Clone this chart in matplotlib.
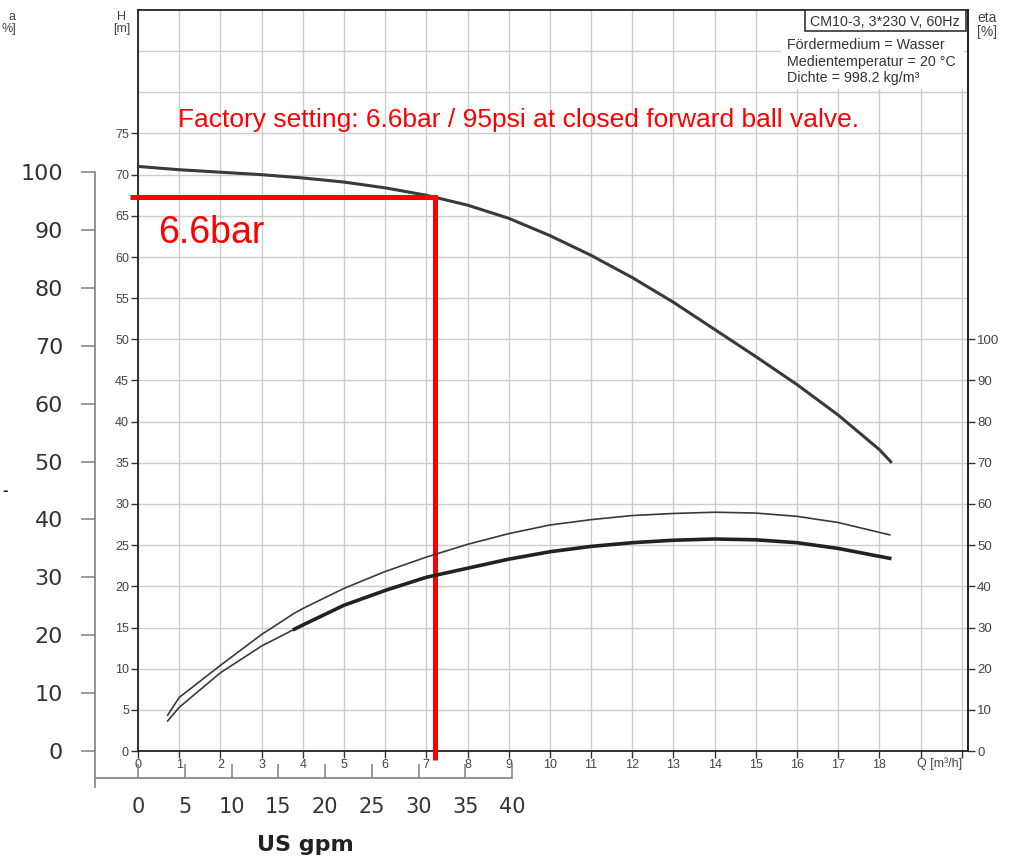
import matplotlib
matplotlib.use("Agg")
import matplotlib.pyplot as plt
from matplotlib.patches import Rectangle
import numpy as np

plt.rcParams['font.family'] = ['Liberation Sans', 'DejaVu Sans']

# ---------------- data ----------------
# Pump head curve H [m] vs flow Q [m3/h]
q_head = [0, 1, 2, 3, 4, 5, 6, 7, 8, 9, 10, 11, 12, 13, 14, 15, 16, 17, 18, 18.3]
head_m = [71.0, 70.6, 70.3, 70.0, 69.6, 69.1, 68.4, 67.5, 66.3, 64.7, 62.6,
          60.2, 57.5, 54.5, 51.2, 47.9, 44.5, 40.8, 36.6, 35.0]

# Efficiency curves eta [%] vs Q [m3/h]
q_eta = [0.72, 1, 2, 3, 3.8, 4, 5, 6, 7, 8, 9, 10, 11, 12, 13, 14, 15, 16, 17, 18.25]
eta_pump = [8.7, 13.0, 20.8, 28.3, 33.5, 34.6, 39.5, 43.6, 47.1, 50.2, 52.8, 54.9,
            56.2, 57.2, 57.7, 58.0, 57.8, 57.0, 55.5, 52.5]
eta_total = [7.3, 10.6, 19.0, 25.5, 29.6, 30.6, 35.4, 39.0, 42.2, 44.4, 46.6, 48.4,
             49.7, 50.6, 51.2, 51.5, 51.3, 50.6, 49.2, 46.8]
thick_from_q = 3.8

# Axis ticks
q_ticks = list(range(0, 21))
q_labels = [str(i) for i in range(0, 19)] + ['', '']
h_ticks = list(range(0, 76, 5))
h_grid_extra = [80, 85]
eta_ticks = list(range(0, 101, 10))
psi_ticks = list(range(0, 101, 10))
gpm_ticks = list(range(0, 41, 5))

# Factory setting
setting_bar = 6.6
setting_q = 7.2
M_PER_BAR = 10.19
M_PER_PSI = 0.7031
GPM_PER_M3H = 4.4029

title_txt = "CM10-3, 3*230 V, 60Hz"
info_lines = ["Fördermedium = Wasser", "Medientemperatur = 20 °C", "Dichte = 998.2 kg/m³"]
note_txt = "Factory setting: 6.6bar / 95psi at closed forward ball valve."

# ---------------- figure ----------------
W_PX, H_PX = 1010, 860
fig = plt.figure(figsize=(W_PX / 100, H_PX / 100), dpi=100)

x0, x1 = 138, 968
y_top, y_zero = 10, 751
rect = [x0 / W_PX, 1 - y_zero / H_PX, (x1 - x0) / W_PX, (y_zero - y_top) / H_PX]
QMAX, HMAX = 20.15, 90

ax = fig.add_axes(rect)
ax.set_xlim(0, QMAX)
ax.set_ylim(0, HMAX)
ax.set_xticks(q_ticks)
ax.set_xticklabels(q_labels)
ax.set_yticks(h_ticks)
ax.set_yticks(h_grid_extra, minor=True)
ax.grid(True, which='both', color='#cccccc', lw=1.0)
ax.set_axisbelow(True)
ax.tick_params(axis='y', which='major', direction='out', length=5, width=1, pad=1.5,
               labelsize=9, labelcolor='#444444', color='#333333')
ax.tick_params(axis='y', which='minor', length=0)
ax.tick_params(axis='x', direction='out', length=5, width=1, pad=1,
               labelsize=9, labelcolor='#444444', color='#333333')
for s in ax.spines.values():
    s.set_color('#222222')
    s.set_linewidth(1.3)

ax.text(19.45, -0.8, 'Q [m³/h]', ha='center', va='top', fontsize=9, color='#444444',
        clip_on=False)

# head curve
ax.plot(q_head, head_m, color='#3a3a3a', lw=2.2, solid_capstyle='butt', zorder=3)

# eta axis (right)
ax_eta = ax.twinx()
ax_eta.set_ylim(0, 2 * HMAX)
ax_eta.set_yticks(eta_ticks)
ax_eta.tick_params(axis='y', direction='out', length=5, width=1, pad=1.5,
                   labelsize=9.5, labelcolor='#444444', color='#333333')
for k, s in ax_eta.spines.items():
    s.set_visible(k == 'right')
    s.set_color('#222222')
    s.set_linewidth(1.3)

q_eta_a = np.array(q_eta)
eta_total_a = np.array(eta_total)
ax_eta.plot(q_eta, eta_pump, color='#3a3a3a', lw=1.2, zorder=3)
ax_eta.plot(q_eta, eta_total, color='#3a3a3a', lw=1.2, zorder=3)
m = q_eta_a >= thick_from_q
ax_eta.plot(q_eta_a[m], eta_total_a[m], color='#222222', lw=2.6, zorder=3)

# legend box
ax.add_patch(Rectangle((15.6, 80.4), 4.45, 9.6, facecolor='white', edgecolor='none',
                       zorder=2.5))
ax.add_patch(Rectangle((16.19, 87.45), 3.9, 2.55, facecolor='white', edgecolor='#222222',
                       lw=1.1, zorder=2.6))
ax.text(18.13, 88.1, title_txt, ha='center', va='baseline', fontsize=10.3,
        color='#333333', zorder=4)
for i, line in enumerate(info_lines):
    ax.text(15.75, 85.3 - i * 2.05, line, ha='left', va='baseline', fontsize=10.3,
            color='#333333', zorder=4)

# red factory setting
h_set = setting_bar * M_PER_BAR
ax.plot([-0.19, setting_q, setting_q], [h_set, h_set, -1.1], color='#ff0000', lw=3.6,
        solid_joinstyle='miter', solid_capstyle='butt', clip_on=False, zorder=6)
ax.text(0.97, 75.85, note_txt, color='#ff0000', fontsize=19, ha='left', va='baseline',
        zorder=6)
ax.text(0.49, 61.65, f'{setting_bar}bar', color='#ff0000', fontsize=27, ha='left',
        va='baseline', zorder=6)

# psi axis (left, outer)
ax_p = fig.add_axes(rect)
ax_p.patch.set_visible(False)
ax_p.set_ylim(0, HMAX / M_PER_PSI)
ax_p.set_xticks([])
ax_p.set_yticks(psi_ticks)
for k, s in ax_p.spines.items():
    s.set_visible(k == 'left')
ax_p.spines['left'].set_position(('axes', -(x0 - 95) / (x1 - x0)))
ax_p.spines['left'].set_bounds(-6.2, 100)
ax_p.spines['left'].set_color('#8a8a8a')
ax_p.spines['left'].set_linewidth(1.3)
ax_p.tick_params(axis='y', direction='out', length=10, width=1.2, color='#8a8a8a',
                 pad=13, labelsize=16, labelcolor='#333333')
for t in ax_p.get_yticklabels():
    t.set_family('DejaVu Sans')

# US gpm axis (bottom, outer)
y_gpm = 778
ax_g = fig.add_axes([rect[0], 1 - y_gpm / H_PX, rect[2], 0.0001])
ax_g.patch.set_visible(False)
ax_g.set_xlim(0, QMAX * GPM_PER_M3H)
ax_g.set_yticks([])
ax_g.set_xticks(gpm_ticks)
for k, s in ax_g.spines.items():
    s.set_visible(k == 'bottom')
ax_g.spines['bottom'].set_bounds(-4.6, 40)
ax_g.spines['bottom'].set_color('#8a8a8a')
ax_g.spines['bottom'].set_linewidth(1.3)
ax_g.tick_params(axis='x', direction='in', length=10, width=1.2, color='#8a8a8a',
                 pad=14, labelsize=15, labelcolor='#333333')
for t in ax_g.get_xticklabels():
    t.set_family('DejaVu Sans')

fig.text(305 / W_PX, 1 - 845 / H_PX, 'US gpm', ha='center', va='center', fontsize=16,
         fontweight='bold', family='DejaVu Sans', color='#222222')

# axis titles
fig.text(122 / W_PX, 1 - 11 / H_PX, 'H\n[m]', ha='center', va='top', fontsize=9,
         color='#444444', linespacing=1.0)
fig.text(977 / W_PX, 1 - 11 / H_PX, 'eta\n[%]', ha='left', va='top', fontsize=10,
         color='#444444', linespacing=1.0)
fig.text(1 / W_PX, 1 - 11 / H_PX, 'a\n%]', ha='left', va='top', fontsize=9,
         color='#444444', linespacing=1.0, multialignment='right')
fig.text(2 / W_PX, 1 - 490 / H_PX, '-', ha='left', va='center', fontsize=12,
         color='#222222', fontweight='bold')

fig.savefig('out.png', dpi=100)
